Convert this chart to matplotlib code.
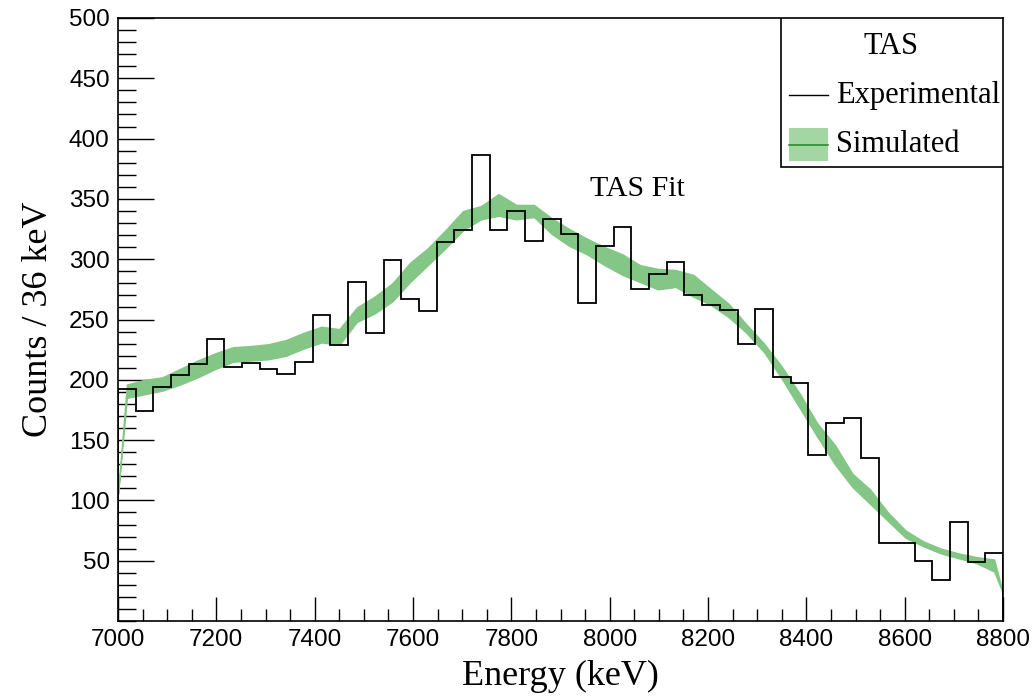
import numpy as np
import matplotlib
matplotlib.use("Agg")
import matplotlib.pyplot as plt
from matplotlib.ticker import MultipleLocator
from matplotlib.patches import Rectangle
from matplotlib.lines import Line2D

# ---------------- data ----------------
e_min, e_max, bin_width = 7000, 8800, 36
bin_edges = np.arange(e_min, e_max + bin_width, bin_width)

experimental = [192, 174, 194, 204, 213, 234, 211, 214, 209, 205,
                215, 254, 229, 281, 239, 299, 267, 257, 314, 324,
                386, 324, 340, 315, 333, 321, 264, 311, 327, 275,
                288, 298, 270, 262, 258, 230, 259, 202, 197, 138,
                164, 168, 135, 65, 65, 50, 34, 82, 49, 56]

sim_upper = [196, 200, 202, 209, 216, 222, 227, 228, 229.5, 233,
             239, 244, 242, 260, 269, 280, 297, 309, 324, 340,
             344, 354, 345, 345, 334, 325, 317, 310, 304, 295,
             292, 291, 287, 275, 263, 246, 230, 211, 189, 164,
             146, 122, 109, 90, 75, 66, 60, 56, 53, 51]
sim_lower = [185, 188, 191, 196, 202, 209, 215, 216, 217, 220,
             226, 231, 229, 248, 255, 265, 281, 295, 309, 324,
             333, 336, 333, 335, 321, 311, 304, 295, 287, 281,
             275, 277, 269, 262, 252, 239, 223, 201, 177, 153,
             130, 111, 97, 83, 69, 62, 56, 52, 48, 41]
sim_edge_left = 105
sim_edge_right = 23

x_ticks = [7000, 7200, 7400, 7600, 7800, 8000, 8200, 8400, 8600, 8800]
y_ticks = [50, 100, 150, 200, 250, 300, 350, 400, 450, 500]

# ---------------- figure ----------------
W, H = 1033, 697
fig = plt.figure(figsize=(W / 100, H / 100), dpi=100)
ax = fig.add_axes([118 / W, 1 - 621 / H, (1003 - 118) / W, (621 - 18) / H])

green = "#84c686"

centers = 0.5 * (bin_edges[:-1] + bin_edges[1:])
bx = np.concatenate([[e_min], centers, [e_max]])
bu = np.concatenate([[sim_edge_left], sim_upper, [sim_edge_right]])
bl = np.concatenate([[sim_edge_left], sim_lower, [sim_edge_right]])
ax.fill_between(bx, bl, bu, facecolor=green, edgecolor=green, lw=1.0, zorder=2)

ax.stairs(experimental, bin_edges, color="black", lw=1.3, zorder=3)

ax.set_xlim(e_min, e_max)
ax.set_ylim(0, 500)

tick_font = ["Liberation Sans", "DejaVu Sans"]
ax.set_xticks(x_ticks)
ax.set_yticks(y_ticks)
ax.xaxis.set_minor_locator(MultipleLocator(50))
ax.yaxis.set_minor_locator(MultipleLocator(10))
ax.tick_params(axis="x", which="major", direction="in", length=17, width=1.0,
               pad=6, top=False)
ax.tick_params(axis="x", which="minor", direction="in", length=9, width=1.0, top=False)
ax.tick_params(axis="y", which="major", direction="in", length=26, width=1.0,
               pad=6, right=False)
ax.tick_params(axis="y", which="minor", direction="in", length=13, width=1.0, right=False)
for lab in ax.get_xticklabels() + ax.get_yticklabels():
    lab.set_family(tick_font)
    lab.set_fontsize(17.5)
for sp in ax.spines.values():
    sp.set_linewidth(1.2)

serif = ["Liberation Serif", "DejaVu Serif"]
ax.set_xlabel("Energy (keV)", family=serif, fontsize=26, labelpad=6)
ax.set_ylabel("Counts / 36 keV", family=serif, fontsize=26, labelpad=10)

ax.text((590 - 118) / 885, (621 - 189) / 603, "TAS Fit", transform=ax.transAxes,
        family=serif, fontsize=21.5, ha="left", va="center")

# ---------------- legend (ROOT style box) ----------------
def ax_x(px):
    return (px - 118) / (1003 - 118)

def ax_y(py):
    return (621 - py) / (621 - 18)

lx0 = ax_x(781)
ly0 = ax_y(167)
box = Rectangle((lx0, ly0), 1 - lx0, 1 - ly0, transform=ax.transAxes,
                facecolor="white", edgecolor="black", lw=1.2, zorder=5)
ax.add_patch(box)

ax.text(ax_x(891), ax_y(46), "TAS", transform=ax.transAxes, family=serif,
        fontsize=22, ha="center", va="center", zorder=6)
ax.add_line(Line2D([ax_x(789), ax_x(828)], [ax_y(95), ax_y(95)],
                   transform=ax.transAxes, color="black", lw=1.0, zorder=6))
ax.text(ax_x(836), ax_y(95), "Experimental", transform=ax.transAxes,
        family=serif, fontsize=22, ha="left", va="center", zorder=6)
ax.add_patch(Rectangle((ax_x(789), ax_y(161)), ax_x(828) - ax_x(789),
                       ax_y(128) - ax_y(161), transform=ax.transAxes,
                       facecolor="#a3d6a3", edgecolor="none", zorder=6))
ax.add_line(Line2D([ax_x(789), ax_x(828)], [ax_y(144.5), ax_y(144.5)],
                   transform=ax.transAxes, color="#2e8b2e", lw=1.2, zorder=7))
ax.text(ax_x(836), ax_y(145), "Simulated", transform=ax.transAxes,
        family=serif, fontsize=22, ha="left", va="center", zorder=6)

fig.savefig("out.png", dpi=100)
